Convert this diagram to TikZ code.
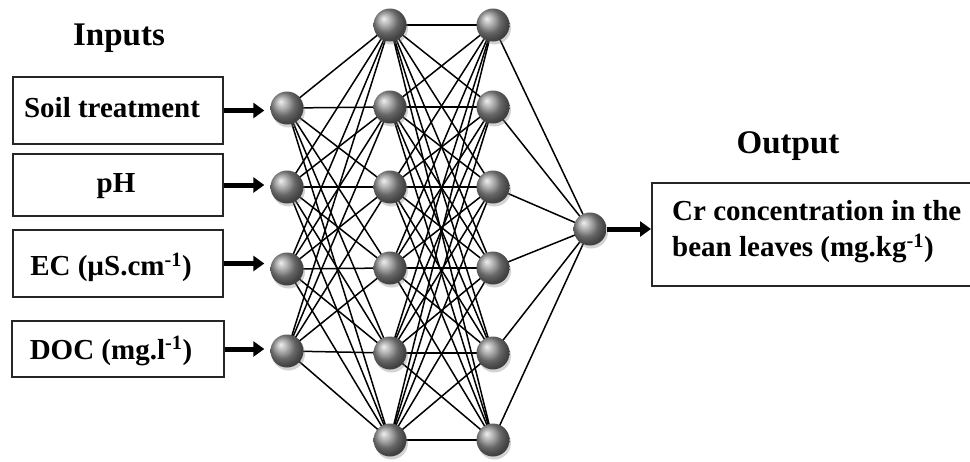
\documentclass[tikz,border=0pt]{standalone}
\usepackage{fontspec}
\setmainfont{Liberation Serif}
\usetikzlibrary{arrows.meta,shadows,backgrounds}
\begin{document}
\begin{tikzpicture}[x=1pt,y=-1pt,
  neuron/.style={circle, minimum size=33pt, inner sep=0pt, shading=ball, ball color=gray!85,
    drop shadow={shadow xshift=1.5pt, shadow yshift=-3pt, opacity=0.35, fill=gray}},
  inbox/.style={draw=black!85, line width=2pt, rectangle, inner sep=0pt},
  conn/.style={line width=1.5pt, black},
  bigarrow/.style={line width=5pt, -{Triangle[length=11pt,width=15pt]}},
  lbl/.style={font=\fontsize{29}{36}\selectfont\bfseries, inner sep=0pt},
  head/.style={font=\fontsize{33}{38}\selectfont\bfseries, inner sep=0pt}]
\useasboundingbox (0,0) rectangle (970,461);

% headings
\node[head] (hin) at (119,38) {Inputs};
\node[head] (hout) at (788,146) {Output};

% input boxes
\node[inbox, minimum width=210pt, minimum height=67pt] (b1) at (118,110.5) {};
\node[inbox, minimum width=210pt, minimum height=62pt] (b2) at (118,185) {};
\node[inbox, minimum width=210pt, minimum height=67pt] (b3) at (117.5,263.5) {};
\node[inbox, minimum width=212pt, minimum height=56pt] (b4) at (118,349) {};
\node[lbl] (t1) at (112,108) {Soil treatment};
\node[lbl] (t2) at (116,186) {pH};
\node[lbl] (t3) at (111,267) {EC (µS.cm\textsuperscript{-1})};
\node[lbl] (t4) at (111,351) {DOC (mg.l\textsuperscript{-1})};

% neurons
\node[neuron] (i1) at (287,108) {};
\node[neuron] (i2) at (287,187) {};
\node[neuron] (i3) at (287,269) {};
\node[neuron] (i4) at (287,351) {};
\foreach \k/\y in {1/25,2/107,3/187,4/268,5/353,6/440}{
  \node[neuron] (a\k) at (390,\y) {};
  \node[neuron] (c\k) at (493,\y) {};
}
\node[neuron] (o) at (590,229) {};

% output box
\node[inbox, minimum width=322pt, minimum height=103pt] (ob) at (813,234.5) {};
\node[lbl, anchor=west, align=left] (ot) at (672,232) {Cr concentration in the\\bean leaves (mg.kg\textsuperscript{-1})};

% connections
\begin{scope}[on background layer]
\foreach \i in {1,...,4}{
  \foreach \k in {1,...,6}{
    \draw[conn] (i\i.center) -- (a\k.center);
  }
}
\foreach \k in {1,...,6}{
  \foreach \m in {1,...,6}{
    \draw[conn] (a\k.center) -- (c\m.center);
  }
  \draw[conn] (c\k.center) -- (o.center);
}
\end{scope}

% arrows
\draw[bigarrow] (b1.east) -- ([xshift=-6pt]b1.east -| i1.west);
\draw[bigarrow] (b2.east) -- ([xshift=-6pt]b2.east -| i2.west);
\draw[bigarrow] (b3.east) -- ([xshift=-6pt]b3.east -| i3.west);
\draw[bigarrow] (b4.east) -- ([xshift=-6pt]b4.east -| i4.west);
\draw[bigarrow] (o.east) -- (o.east -| ob.west);
\end{tikzpicture}
\end{document}
